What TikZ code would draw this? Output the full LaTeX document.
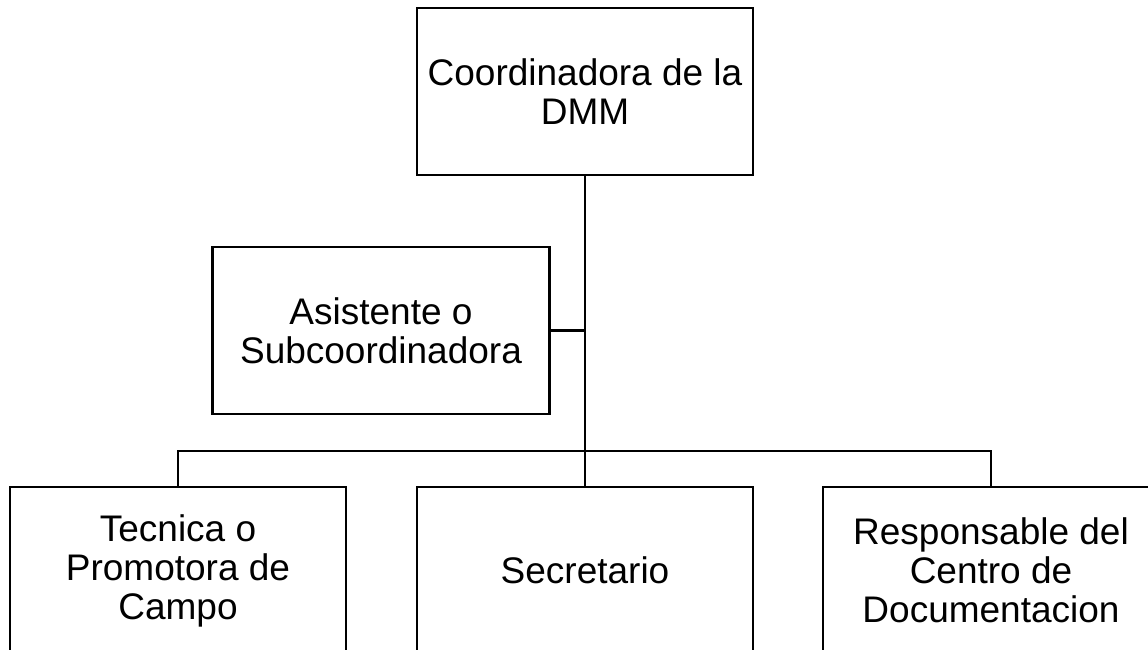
\documentclass[tikz,border=0pt]{standalone}
\usepackage{fontspec}
\setmainfont{Liberation Sans}
\begin{document}
\begin{tikzpicture}[x=1pt,y=1pt,
  box/.style={draw=black, line width=2.2pt, minimum width=336pt, minimum height=167pt,
    align=center, inner sep=0pt, font=\fontsize{37}{39}\selectfont},
  link/.style={draw=black, line width=2.2pt}]
\useasboundingbox (0,0) rectangle (1148,650);
\clip (0,0) rectangle (1148,650);
\fill[white] (0,0) rectangle (1148,650);
\node[box] (top) at (585,558.5) {Coordinadora de la\\DMM};
\node[box, minimum width=337pt] (asist) at (381,319.5) {Asistente o\\Subcoordinadora};
\node[box] (b1) at (178,79.5) {Tecnica o\\Promotora de\\Campo};
\node[box] (b2) at (585,79.5) {Secretario};
\node[box] (b3) at (991,79.5) {Responsable del\\Centro de\\Documentacion};
\coordinate (bus) at (585,199);
\draw[link] (top.south) -- (bus);
\draw[link] (asist.east) -- (asist.east -| top.south);
\draw[link] (b1.north) |- (bus) -| (b3.north);
\draw[link] (bus) -- (b2.north);
\end{tikzpicture}
\end{document}
